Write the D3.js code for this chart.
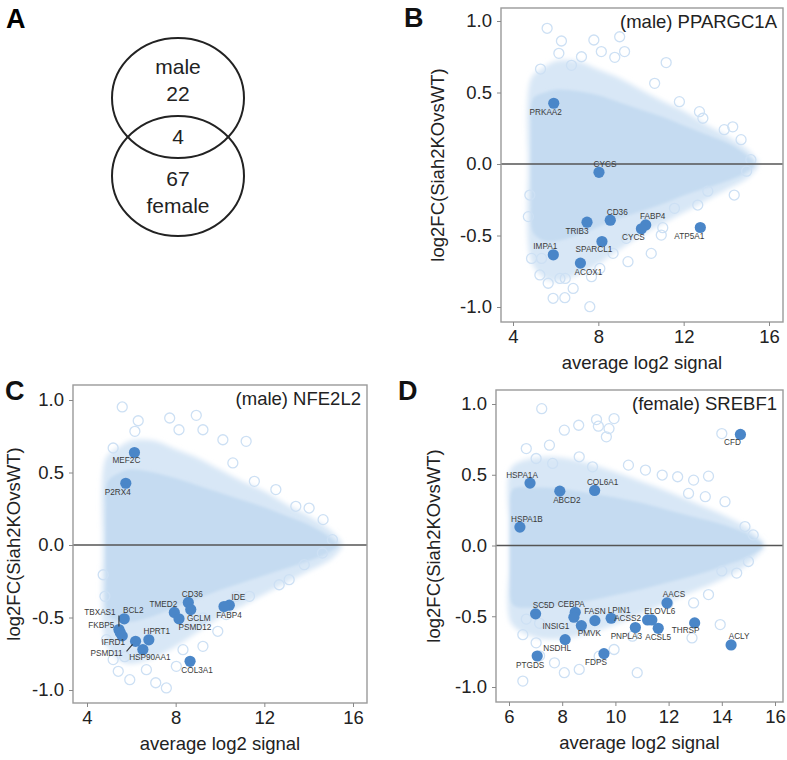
<!DOCTYPE html>
<html><head><meta charset="utf-8">
<script src="https://cdn.jsdelivr.net/npm/d3@7"></script>
<style>
body{margin:0;background:#fff}
svg{display:block}
text{font-family:"Liberation Sans",Arial,Helvetica,sans-serif}
</style>
</head><body>
<svg id="chart" width="787" height="760"></svg>
<script>
// ---------------- DATA ----------------
const vennSets = ["male", "female"];
const vennCounts = [22, 4, 67]; // male only, shared, female only

const panelLetters = ["A", "B", "C", "D"];
const panelTitles = ["(male) PPARGC1A", "(male) NFE2L2", "(female) SREBF1"];
const xTitle = "average log2 signal";
const yTitle = "log2FC(Siah2KOvsWT)";
const yTicks = [-1.0, -0.5, 0.0, 0.5, 1.0];
const xTicksB = [4, 8, 12, 16];
const xTicksC = [4, 8, 12, 16];
const xTicksD = [6, 8, 10, 12, 14, 16];

// highlighted genes
const genesB = ["PRKAA2","CYCS","TRIB3","CD36","FABP4","CYCS","ATP5A1","SPARCL1","IMPA1","ACOX1"];
const aveB   = [5.91, 8.03, 7.47, 8.56, 10.22, 10.02, 12.78, 8.17, 5.89, 7.16];
const lfcB   = [0.425, -0.058, -0.407, -0.393, -0.426, -0.453, -0.444, -0.542, -0.635, -0.693];

const genesC = ["MEF2C","P2RX4","CD36","GCLM","TMED2","PSMD12","IDE","FABP4","BCL2","TBXAS1","FKBP5","IFRD1","PSMD11","HPRT1","HSP90AA1","COL3A1"];
const aveC   = [6.14, 5.75, 8.57, 8.68, 7.94, 8.15, 10.42, 10.18, 5.68, 5.44, 5.50, 5.59, 6.19, 6.79, 6.52, 8.65];
const lfcC   = [0.638, 0.426, -0.396, -0.445, -0.465, -0.509, -0.415, -0.424, -0.509, -0.583, -0.604, -0.627, -0.664, -0.654, -0.721, -0.802];

const genesD = ["CFD","HSPA1A","ABCD2","COL6A1","HSPA1B","AACS","SC5D","CEBPA","INSIG1","FASN","PMVK","LPIN1","ACSS2","ELOVL6","PNPLA3","ACSL5","THRSP","ACLY","NSDHL","PTGDS","FDPS"];
const aveD   = [14.70, 6.79, 7.91, 9.22, 6.41, 11.94, 7.00, 8.49, 8.44, 9.23, 8.72, 9.84, 11.21, 11.37, 10.75, 11.61, 12.98, 14.35, 8.11, 7.06, 9.57];
const lfcD   = [0.785, 0.441, 0.384, 0.389, 0.130, -0.406, -0.483, -0.472, -0.507, -0.531, -0.566, -0.514, -0.526, -0.526, -0.580, -0.585, -0.547, -0.703, -0.665, -0.781, -0.764];

// dense core of all genes (envelope)
const coreXB = [4.85, 4.95, 5.5, 6, 7, 8, 9, 10, 11, 12, 13, 14, 14.8, 15.3];
const coreHiB = [0.30, 0.46, 0.50, 0.52, 0.51, 0.48, 0.43, 0.38, 0.33, 0.27, 0.21, 0.15, 0.08, 0.02];
const coreLoB = [-0.30, -0.48, -0.54, -0.54, -0.50, -0.44, -0.38, -0.33, -0.28, -0.22, -0.17, -0.12, -0.07, -0.02];
const haloXB = [4.7, 4.85, 5.5, 6, 7, 8, 9, 10, 11, 12, 13, 14, 15, 15.5];
const haloHiB = [0.10, 0.60, 0.68, 0.72, 0.72, 0.66, 0.60, 0.52, 0.44, 0.37, 0.28, 0.20, 0.10, 0.02];
const haloLoB = [-0.10, -0.68, -0.80, -0.82, -0.78, -0.70, -0.60, -0.50, -0.42, -0.34, -0.26, -0.18, -0.10, -0.02];

const coreXC = [4.85, 4.95, 5.5, 6, 7, 8, 9, 10, 11, 12, 13, 14, 14.8, 15.3];
const coreHiC = [0.28, 0.44, 0.50, 0.52, 0.50, 0.46, 0.41, 0.36, 0.31, 0.26, 0.20, 0.14, 0.07, 0.01];
const coreLoC = [-0.28, -0.48, -0.53, -0.53, -0.49, -0.43, -0.37, -0.31, -0.26, -0.21, -0.16, -0.11, -0.06, -0.01];
const haloXC = [4.7, 4.85, 5.5, 6, 7, 8, 9, 10, 11, 12, 13, 14, 15, 15.5];
const haloHiC = [0.10, 0.60, 0.68, 0.72, 0.72, 0.66, 0.60, 0.52, 0.44, 0.37, 0.28, 0.20, 0.10, 0.02];
const haloLoC = [-0.10, -0.68, -0.80, -0.82, -0.78, -0.70, -0.60, -0.50, -0.42, -0.34, -0.26, -0.18, -0.10, -0.02];

const coreXD = [6.05, 6.15, 7, 8, 9, 10, 11, 12, 13, 14, 15, 15.5];
const coreHiD = [0.30, 0.40, 0.41, 0.40, 0.37, 0.34, 0.30, 0.25, 0.20, 0.15, 0.08, 0.02];
const coreLoD = [-0.30, -0.42, -0.44, -0.42, -0.39, -0.35, -0.31, -0.26, -0.21, -0.15, -0.08, -0.02];
const haloXD = [6.0, 6.08, 7, 8, 9, 10, 11, 12, 13, 14, 15, 15.6];
const haloHiD = [0.20, 0.55, 0.62, 0.62, 0.58, 0.52, 0.45, 0.38, 0.30, 0.22, 0.12, 0.02];
const haloLoD = [-0.20, -0.55, -0.65, -0.66, -0.62, -0.56, -0.48, -0.40, -0.32, -0.24, -0.13, -0.02];

// sparse outlying genes (hollow circles)
const outXB = [5.60,6.27,7.79,9.00,6.15,8.14,9.23,11.18,8.77,7.21,5.29,6.74,10.64,11.80,12.74,12.90,14.30,13.90,14.69,15.15,14.95,14.37,13.13,12.66,11.57,10.95,10.48,11.02,9.31,8.69,9.39,8.07,7.68,7.60,6.82,6.43,5.88,5.65,5.26,4.79,4.72,4.87,5.34,6.20,6.45];
const outYB = [0.949,0.86,0.867,0.89,0.774,0.786,0.786,0.709,0.746,0.75,0.664,0.69,0.564,0.436,0.366,0.32,0.26,0.24,0.17,0.03,-0.05,-0.217,-0.19,-0.287,-0.31,-0.497,-0.625,-0.445,-0.52,-0.625,-0.683,-0.73,-0.788,-0.998,-0.87,-0.935,-0.939,-0.834,-0.776,-0.217,-0.368,-0.66,-0.66,-0.80,-0.80];

const outXC = [5.59,6.31,7.73,8.93,6.16,8.15,9.23,10.13,11.18,5.18,10.58,11.55,12.52,13.42,14.02,14.65,15.07,14.62,13.80,13.12,12.67,11.33,10.73,10.28,9.23,9.90,9.23,8.33,8.03,7.58,6.68,5.93,5.41,5.18,4.73,4.81,4.88,5.70,7.10];
const outYC = [0.952,0.857,0.876,0.894,0.784,0.795,0.795,0.726,0.715,0.669,0.566,0.439,0.382,0.267,0.255,0.175,0.037,-0.055,-0.136,-0.239,-0.274,-0.354,-0.354,-0.48,-0.503,-0.595,-0.699,-0.722,-0.837,-0.986,-0.86,-0.929,-0.871,-0.79,-0.205,-0.354,-0.653,-0.77,-0.95];

const outXD = [7.23,9.29,9.36,9.95,9.76,9.66,8.62,8.08,7.52,6.65,7.02,7.64,8.64,9.14,10.49,11.13,11.76,12.34,12.94,13.50,14.00,12.75,13.38,14.12,14.87,15.18,15.00,14.56,14.00,13.50,12.94,13.94,12.88,10.64,10.82,9.95,9.39,8.64,8.08,7.71,7.02,6.52,7.15,6.52,6.65,7.15,11.97];
const outYD = [0.967,0.89,0.843,0.897,0.826,0.768,0.85,0.815,0.709,0.685,0.615,0.58,0.627,0.556,0.568,0.533,0.498,0.486,0.462,0.49,0.791,0.368,0.345,0.31,0.134,0.075,-0.113,-0.195,-0.18,-0.347,-0.406,-0.559,-0.653,-0.641,-0.899,-0.735,-0.782,-0.876,-0.899,-0.829,-0.688,-0.958,-0.78,-0.63,-0.52,-0.55,-0.41];

// ---------------- LAYOUT (pixels) ----------------
const labOffB = [[-8,9],[6,-8],[-10,9],[7,-8],[7,-8],[-8,9],[-11,9],[-8,8],[-8,-8],[8,9]];
const labOffC = [[-8,8],[-8,9],[4,-8],[8,9],[-11,-8],[16,9],[9,-8],[5,9],[9,-8],[-19,-17],[-19,-7],[-9,7],[-29,12],[8,-8],[7,8],[7,9]];
const labOffD = [[-8,8],[-8,-8],[7,9],[8,-8],[7,-8],[7,-8],[8,-8],[-4,-8],[-18,9],[0,-9],[8,8],[8,-8],[-20,-1],[8,-8],[-9,9],[0,9],[-9,8],[8,-8],[-8,9],[-7,9],[-8,9]];
const leadersC = {9: [[0,-14],[0,-3]], 12: [[-9,10],[-3,3]]};

const panels = [
  {key:"B", title:panelTitles[0], box:[501,8,783,322], xPix:[513,769], xVal:[4,16], yPix:[21,307],
   xTicks:xTicksB, genes:genesB, ave:aveB, lfc:lfcB, lab:labOffB, leaders:{},
   core:[coreXB,coreHiB,coreLoB], halo:[haloXB,haloHiB,haloLoB], out:[outXB,outYB],
   yTitleX:437, letter:[404,27]},
  {key:"C", title:panelTitles[1], box:[73,385,367,703], xPix:[87,353], xVal:[4,16], yPix:[400,690],
   xTicks:xTicksC, genes:genesC, ave:aveC, lfc:lfcC, lab:labOffC, leaders:leadersC,
   core:[coreXC,coreHiC,coreLoC], halo:[haloXC,haloHiC,haloLoC], out:[outXC,outYC],
   yTitleX:13, letter:[5,400]},
  {key:"D", title:panelTitles[2], box:[496,390,783,702], xPix:[509,775], xVal:[6,16], yPix:[404,687],
   xTicks:xTicksD, genes:genesD, ave:aveD, lfc:lfcD, lab:labOffD, leaders:{},
   core:[coreXD,coreHiD,coreLoD], halo:[haloXD,haloHiD,haloLoD], out:[outXD,outYD],
   yTitleX:433, letter:[398,400]}
];

const svg = d3.select("#chart");
const defs = svg.append("defs");
defs.append("filter").attr("id","softH").attr("x","-10%").attr("y","-10%").attr("width","120%").attr("height","120%")
  .append("feGaussianBlur").attr("stdDeviation",2.5);
defs.append("filter").attr("id","softC").attr("x","-10%").attr("y","-10%").attr("width","120%").attr("height","120%")
  .append("feGaussianBlur").attr("stdDeviation",1.5);

// ---------------- PANEL A : Venn ----------------
const gA = svg.append("g");
gA.append("text").attr("x",6).attr("y",28).attr("font-size",27).attr("font-weight","bold").text(panelLetters[0]);
const vennShapes = [{cx:178, cy:98}, {cx:178, cy:176}];
gA.selectAll("ellipse").data(vennSets).join("ellipse")
  .attr("cx",(d,i)=>vennShapes[i].cx).attr("cy",(d,i)=>vennShapes[i].cy)
  .attr("rx",66).attr("ry",60).attr("fill","none").attr("stroke","#222").attr("stroke-width",2);
const vennText = [
  {t:vennSets[0], x:178, y:66},
  {t:String(vennCounts[0]), x:178, y:93},
  {t:String(vennCounts[1]), x:178, y:136},
  {t:String(vennCounts[2]), x:178, y:178},
  {t:vennSets[1], x:178, y:205}
];
gA.selectAll("text.v").data(vennText).join("text").attr("class","v")
  .attr("x",d=>d.x).attr("y",d=>d.y).attr("text-anchor","middle").attr("dominant-baseline","central")
  .attr("font-size",21).attr("fill","#222").text(d=>d.t);

// ---------------- MA panels ----------------
panels.forEach((p, pi) => {
  const [L,T,R,B] = p.box;
  const x = d3.scaleLinear().domain(p.xVal).range(p.xPix);
  const y = d3.scaleLinear().domain([1,-1]).range(p.yPix);
  const g = svg.append("g");
  const clipId = "clip"+p.key;
  g.append("clipPath").attr("id",clipId).append("rect").attr("x",L).attr("y",T).attr("width",R-L).attr("height",B-T);
  const inner = g.append("g").attr("clip-path",`url(#${clipId})`);

  const areaGen = d3.area().x(d=>x(d[0])).y0(d=>y(d[2])).y1(d=>y(d[1])).curve(d3.curveCatmullRom);
  const halo = p.halo[0].map((v,i)=>[v,p.halo[1][i],p.halo[2][i]]);
  const core = p.core[0].map((v,i)=>[v,p.core[1][i],p.core[2][i]]);
  inner.append("path").datum(halo).attr("d",areaGen).attr("fill","#d8e7f6").attr("filter","url(#softH)");
  inner.append("path").datum(core).attr("d",areaGen).attr("fill","#c5dbf1").attr("filter","url(#softC)");

  const outs = p.out[0].map((v,i)=>[v,p.out[1][i]]);
  inner.selectAll("circle.o").data(outs).join("circle").attr("class","o")
    .attr("cx",d=>x(d[0])).attr("cy",d=>y(d[1])).attr("r",5)
    .attr("fill","none").attr("stroke","#cde0f4").attr("stroke-width",1.3);

  // zero line
  inner.append("line").attr("x1",L).attr("x2",R).attr("y1",y(0)).attr("y2",y(0))
    .attr("stroke","#555").attr("stroke-width",1.6);

  // highlighted genes
  const hl = p.genes.map((gname,i)=>({g:gname, a:p.ave[i], l:p.lfc[i], off:p.lab[i], i}));
  inner.selectAll("circle.h").data(hl).join("circle").attr("class","h")
    .attr("cx",d=>x(d.a)).attr("cy",d=>y(d.l)).attr("r",5.6).attr("fill","#4a86c8");
  Object.keys(p.leaders).forEach(k=>{
    const d = hl[+k]; const ld = p.leaders[k];
    inner.append("line").attr("x1",x(d.a)+ld[0][0]).attr("y1",y(d.l)+ld[0][1])
      .attr("x2",x(d.a)+ld[1][0]).attr("y2",y(d.l)+ld[1][1]).attr("stroke","#333").attr("stroke-width",1.1);
  });
  inner.selectAll("text.h").data(hl).join("text").attr("class","h")
    .attr("x",d=>x(d.a)+d.off[0]).attr("y",d=>y(d.l)+d.off[1])
    .attr("text-anchor","middle").attr("dominant-baseline","central")
    .attr("font-size",8.2).attr("fill","#3a3a3a").text(d=>d.g);

  // border
  g.append("rect").attr("x",L).attr("y",T).attr("width",R-L).attr("height",B-T)
    .attr("fill","none").attr("stroke","#9a9a9a").attr("stroke-width",1.4);

  // axes
  const xa = g.append("g").attr("transform",`translate(0,${B})`)
    .call(d3.axisBottom(x).tickValues(p.xTicks).tickSize(4).tickPadding(4).tickFormat(d3.format("d")));
  const ya = g.append("g").attr("transform",`translate(${L},0)`)
    .call(d3.axisLeft(y).tickValues(yTicks).tickSize(4).tickPadding(5).tickFormat(d=>d.toFixed(1)));
  [xa,ya].forEach(a=>{
    a.select(".domain").remove();
    a.selectAll(".tick line").attr("stroke","#888");
    a.selectAll(".tick text").attr("font-size",18.5).attr("fill","#222")
      .attr("font-family","'Liberation Sans',Arial,sans-serif");
  });

  // titles
  g.append("text").attr("x",(L+R)/2).attr("y",B+40).attr("text-anchor","middle").attr("dominant-baseline","central")
    .attr("font-size",18.5).attr("fill","#222").text(xTitle);
  g.append("text").attr("transform",`translate(${p.yTitleX},${(T+B)/2}) rotate(-90)`)
    .attr("text-anchor","middle").attr("dominant-baseline","central")
    .attr("font-size",18.5).attr("fill","#222").text(yTitle);
  g.append("text").attr("x",R-6).attr("y",T+13).attr("text-anchor","end").attr("dominant-baseline","central")
    .attr("font-size",18.5).attr("fill","#222").text(p.title);
  g.append("text").attr("x",p.letter[0]).attr("y",p.letter[1]).attr("font-size",27).attr("font-weight","bold")
    .attr("fill","#111").text(panelLetters[pi+1]);
});
</script>
</body></html>
